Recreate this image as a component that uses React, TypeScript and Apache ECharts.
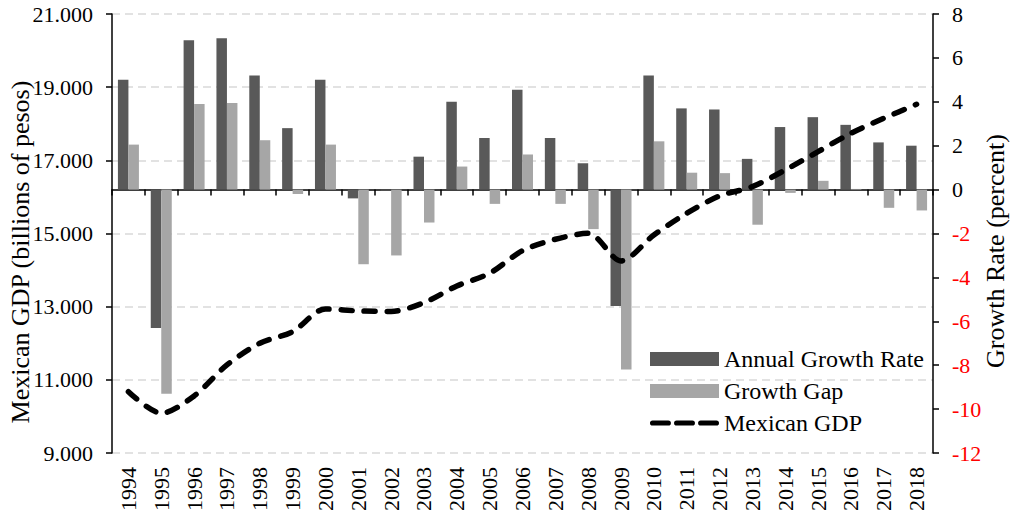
import React, { useEffect, useRef } from "react";
import * as echarts from "echarts";

const years = ["1994","1995","1996","1997","1998","1999","2000","2001","2002","2003","2004","2005","2006","2007","2008","2009","2010","2011","2012","2013","2014","2015","2016","2017","2018"];
const annualGrowth = [5.0,-6.3,6.8,6.9,5.2,2.8,5.0,-0.4,-0.05,1.5,4.0,2.35,4.55,2.35,1.2,-5.3,5.2,3.7,3.65,1.4,2.85,3.3,2.95,2.15,2.0];
const growthGap = [2.05,-9.3,3.9,3.95,2.25,-0.2,2.05,-3.4,-3.0,-1.5,1.05,-0.65,1.6,-0.65,-1.8,-8.2,2.2,0.77,0.75,-1.6,-0.15,0.4,0.03,-0.83,-0.95];
const mexicanGDP = [10677,10087,10560,11407,12000,12317,12937,12883,12870,13110,13566,13913,14531,14842,15006,14250,14960,15553,16026,16280,16737,17237,17739,18149,18532];
const leftAxisTitle = "Mexican GDP (billions of pesos)";
const rightAxisTitle = "Growth Rate (percent)";

const FONT = "'Liberation Serif', 'Times New Roman', serif";

const dashIcon =
  "path://M2.5,4.5L17.5,4.5A2.5,2.5,0,0,1,17.5,9.5L2.5,9.5A2.5,2.5,0,0,1,2.5,4.5Z" +
  "M25.5,4.5L40.5,4.5A2.5,2.5,0,0,1,40.5,9.5L25.5,9.5A2.5,2.5,0,0,1,25.5,4.5Z" +
  "M48.5,4.5L63.5,4.5A2.5,2.5,0,0,1,63.5,9.5L48.5,9.5A2.5,2.5,0,0,1,48.5,4.5Z";

export default function App() {
  const ref = useRef<HTMLDivElement>(null);
  useEffect(() => {
    if (!ref.current) return;
    const chart = echarts.init(ref.current, undefined, { renderer: "svg" });
    chart.setOption({
      animation: false,
      textStyle: { fontFamily: FONT },
      grid: { left: 112, right: 84, top: 14, bottom: 66 },
      graphic: [
        {
          type: "text",
          x: 20,
          y: 252,
          rotation: Math.PI / 2,
          style: {
            text: leftAxisTitle,
            font: "26px " + FONT,
            fill: "#000",
            textAlign: "center",
            textVerticalAlign: "middle",
          },
        },
        {
          type: "text",
          x: 995,
          y: 251,
          rotation: Math.PI / 2,
          style: {
            text: rightAxisTitle,
            font: "26px " + FONT,
            fill: "#000",
            textAlign: "center",
            textVerticalAlign: "middle",
          },
        },
      ],
      legend: {
        orient: "vertical",
        left: 650,
        top: 347,
        padding: 0,
        itemWidth: 69,
        itemHeight: 14,
        itemGap: 8,
        textStyle: { fontFamily: FONT, fontSize: 24, lineHeight: 24, color: "#000" },
        data: [
          { name: "Annual Growth Rate", icon: "rect" },
          { name: "Growth Gap", icon: "rect" },
          { name: "Mexican GDP", icon: dashIcon },
        ],
      },
      xAxis: {
        type: "category",
        data: years,
        boundaryGap: true,
        axisLine: { lineStyle: { color: "#000", width: 1.5 } },
        axisTick: { show: true, inside: false, length: 6, lineStyle: { color: "#000", width: 1.5 } },
        axisLabel: { rotate: 90, fontSize: 22, color: "#000", fontFamily: FONT, margin: 14 },
      },
      yAxis: [
        {
          type: "value",
          min: 9000,
          max: 21000,
          interval: 2000,
          position: "left",
          axisLine: { show: true, lineStyle: { color: "#000", width: 1.5 } },
          axisTick: { show: true, inside: false, length: 6, lineStyle: { color: "#000", width: 1.5 } },
          axisLabel: {
            fontSize: 22,
            color: "#000",
            fontFamily: FONT,
            margin: 19,
            formatter: (v: number) => (v / 1000).toFixed(3),
          },
          splitLine: { show: true, lineStyle: { color: "#d9d9d9", type: [8, 5], width: 1.5 } },
        },
        {
          type: "value",
          min: -12,
          max: 8,
          interval: 2,
          position: "right",
          axisLine: { show: true, lineStyle: { color: "#000", width: 1.5 } },
          axisTick: { show: true, inside: false, length: 6, lineStyle: { color: "#000", width: 1.5 } },
          axisLabel: {
            fontSize: 22,
            fontFamily: FONT,
            margin: 19,
            color: (v: any) => (Number(v) < 0 ? "#ff0000" : "#000"),
          },
          splitLine: { show: false },
        },
      ],
      series: [
        {
          name: "Annual Growth Rate",
          type: "bar",
          yAxisIndex: 1,
          data: annualGrowth,
          barWidth: 10.5,
          barGap: "0%",
          itemStyle: { color: "#595959" },
          z: 2,
        },
        {
          name: "Growth Gap",
          type: "bar",
          yAxisIndex: 1,
          data: growthGap,
          barWidth: 10.5,
          barGap: "0%",
          itemStyle: { color: "#a6a6a6" },
          z: 2,
        },
        {
          name: "Mexican GDP",
          type: "line",
          yAxisIndex: 0,
          data: mexicanGDP,
          smooth: 0.3,
          symbol: "none",
          showSymbol: false,
          lineStyle: { color: "#000", width: 5.5, type: [11, 12], cap: "round" },
          itemStyle: { color: "#000" },
          z: 5,
        },
      ],
    });
    return () => chart.dispose();
  }, []);
  return (
    <div
      ref={ref}
      style={{ position: "absolute", left: 0, top: 0, width: 1017, height: 519 }}
    />
  );
}
